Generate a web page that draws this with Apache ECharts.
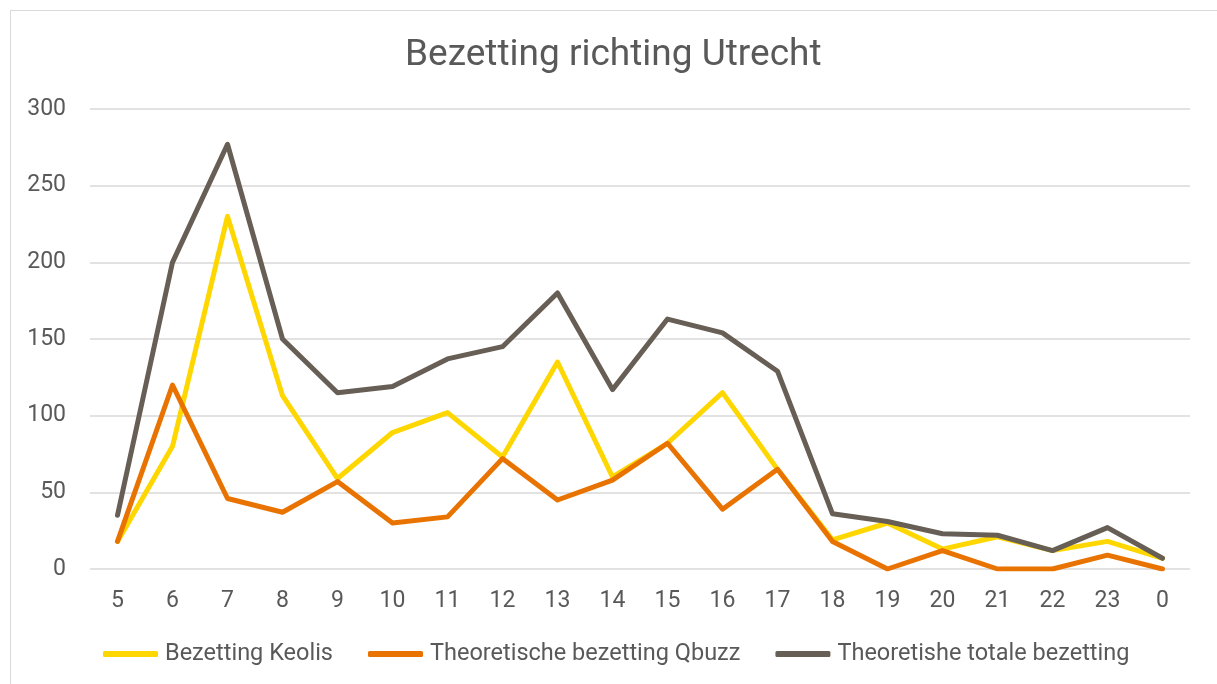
<!DOCTYPE html>
<html>
<head>
<meta charset="utf-8">
<script src="https://cdn.jsdelivr.net/npm/echarts@6/dist/echarts.min.js"></script>
<style>
  html,body{margin:0;padding:0;background:#fff;}
  #frame{position:absolute;left:10px;top:10px;width:1230px;height:700px;border:1px solid #d9d9d9;box-sizing:border-box;}
  #chart{position:absolute;left:0;top:0;width:1217px;height:684px;}
</style>
</head>
<body>
<div id="frame"></div>
<div id="chart"></div>
<script>
// uren (categorieen)
var hours = ['5','6','7','8','9','10','11','12','13','14','15','16','17','18','19','20','21','22','23','0'];
// Bezetting Keolis
var keolis = [18, 80, 230, 113, 59, 89, 102, 73, 135, 60, 82, 115, 65, 19, 30, 13, 21, 12, 18, 7];
// Theoretische bezetting Qbuzz
var qbuzz = [18, 120, 46, 37, 57, 30, 34, 72, 45, 58, 82, 39, 65, 18, 0, 12, 0, 0, 9, 0];
// Theoretishe totale bezetting
var totaal = [35, 200, 277, 150, 115, 119, 137, 145, 180, 117, 163, 154, 129, 36, 31, 23, 22, 12, 27, 7];

var textColor = '#595959';
var font = 'Roboto';

var myChart = echarts.init(document.getElementById('chart'));

function lineSerie(name, data, color){
	return {
		name: name,
		type: 'line',
		data: data,
		symbol: 'none',
		color: color,
		lineStyle: {width: 5, color: color, cap: 'round', join: 'round'}
	};
}

var option = {
	animation: false,
	title: {
		text: 'Bezetting richting Utrecht',
		left: 400,
		top: 32,
		textStyle: {fontFamily: font, fontSize: 37, fontWeight: 'normal', color: textColor}
	},
	legend: {
		bottom: 13,
		left: 98,
		itemWidth: 55,
		itemHeight: 6,
		itemGap: 35,
		icon: 'roundRect',
		textStyle: {fontFamily: font, fontSize: 23.5, color: textColor, padding: [0,0,0,2]},
		data: ['Bezetting Keolis', 'Theoretische bezetting Qbuzz', 'Theoretishe totale bezetting']
	},
	grid: {left: 90, right: 27, top: 109, bottom: 115},
	xAxis: {
		type: 'category',
		data: hours,
		boundaryGap: true,
		axisLine: {show: false},
		axisTick: {show: false},
		axisLabel: {fontFamily: font, fontSize: 23, color: textColor, margin: 21}
	},
	yAxis: {
		type: 'value',
		min: 0,
		max: 300,
		interval: 50,
		axisLine: {show: false},
		axisTick: {show: false},
		axisLabel: {fontFamily: font, fontSize: 23, color: textColor, margin: 24},
		splitLine: {lineStyle: {color: '#d9d9d9', width: 1.5}}
	},
	series: [
		lineSerie('Bezetting Keolis', keolis, '#FFD700'),
		lineSerie('Theoretische bezetting Qbuzz', qbuzz, '#E97300'),
		lineSerie('Theoretishe totale bezetting', totaal, '#675E55')
	]
};
myChart.setOption(option, true);
</script>
</body>
</html>
